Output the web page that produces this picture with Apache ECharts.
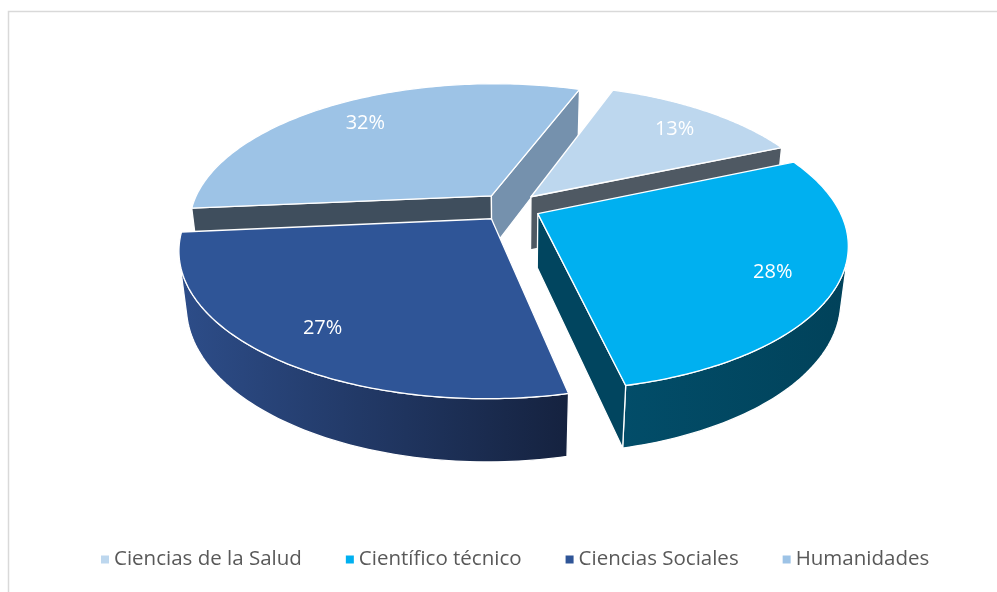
<!DOCTYPE html>
<html>
<head>
<meta charset="utf-8">
<script src="https://cdn.jsdelivr.net/npm/echarts@6/dist/echarts.min.js"></script>
<style>
  html, body { margin: 0; padding: 0; background: #ffffff; }
  #chart { width: 997px; height: 592px; }
</style>
</head>
<body>
<div id="chart"></div>
<script>
// Share of each field (percent)
const categories = ['Ciencias de la Salud', 'Científico técnico', 'Ciencias Sociales', 'Humanidades'];
const shares = [13, 28, 27, 32];

// Face colours of every slice
const topColors = ['#BDD7EE', '#00B0F0', '#2F5597', '#9DC3E6'];
const startFaceColors = ['#4F5963', '#01455F', '#23406F', '#3F4E5D'];
const endFaceColors = ['#4F5963', '#01455F', '#23406F', '#7591AD'];
const outerColors = [
  ['#4F5963', '#4F5963'],
  ['#024D69', '#01425A'],
  ['#2D4D89', '#15223F'],
  ['#3A4A5C', '#3A4A5C']
];

// 3D view of the pie: a short cylinder seen from above with perspective
const VIEW = {
  cx: 510, cy: 207,          // projected centre of the top face
  radius: 300,
  height: 62,
  explode: 31,
  tilt: Math.asin(0.462),    // elevation of the camera
  distance: 1330,            // camera distance for perspective
  firstAngle: 20 * Math.PI / 180,
  labelRadius: 0.8
};

const sinA = Math.sin(VIEW.tilt), cosA = Math.cos(VIEW.tilt);
const camera = [0, VIEW.distance * sinA, -VIEW.distance * cosA];
const total = shares.reduce((a, b) => a + b, 0);

function project(X, Y, Z) {
  const yv = Y * cosA + Z * sinA;
  const zv = Z * cosA - Y * sinA;
  const s = VIEW.distance / (VIEW.distance + zv);
  return [VIEW.cx + X * s, VIEW.cy - yv * s];
}

function faces(n, p) {
  return n[0] * (camera[0] - p[0]) + n[1] * (camera[1] - p[1]) + n[2] * (camera[2] - p[2]) > 0;
}

function sliceAngles(i) {
  let acc = 0;
  for (let j = 0; j < i; j++) acc += shares[j];
  const a0 = VIEW.firstAngle + acc / total * Math.PI * 2;
  const a1 = a0 + shares[i] / total * Math.PI * 2;
  return [a0, a1, (a0 + a1) / 2];
}

function renderSlice(i) {
  const R = VIEW.radius, H = VIEW.height;
  const [a0, a1, mid] = sliceAngles(i);
  const ox = VIEW.explode * Math.sin(mid), oz = VIEW.explode * Math.cos(mid);
  const P = (th, y, r) => project(ox + (r || R) * Math.sin(th), y, oz + (r || R) * Math.cos(th));
  const C = (y) => project(ox, y, oz);
  const edge = { stroke: '#ffffff', lineWidth: 1.3, lineJoin: 'round' };
  const children = [];

  // curved outer wall, only the part turned towards the camera
  const N = 90;
  let kFirst = -1, kLast = -1;
  for (let k = 0; k < N; k++) {
    const th = a0 + (a1 - a0) * (k + 0.5) / N;
    const n = [Math.sin(th), 0, Math.cos(th)];
    const p = [ox + R * n[0], -H / 2, oz + R * n[2]];
    if (faces(n, p)) { if (kFirst < 0) kFirst = k; kLast = k; }
  }
  if (kFirst >= 0) {
    const pts = [];
    for (let k = kFirst; k <= kLast + 1; k++) pts.push(P(a0 + (a1 - a0) * k / N, 0));
    for (let k = kLast + 1; k >= kFirst; k--) pts.push(P(a0 + (a1 - a0) * k / N, -H));
    children.push({
      type: 'polygon', shape: { points: pts },
      style: Object.assign({
        fill: new echarts.graphic.LinearGradient(0, 0, 1, 0, [
          { offset: 0, color: outerColors[i][0] },
          { offset: 1, color: outerColors[i][1] }
        ])
      }, edge)
    });
  }

  // flat radial walls at both ends of the slice
  const walls = [
    { th: a0, n: [-Math.cos(a0), 0, Math.sin(a0)], color: startFaceColors[i] },
    { th: a1, n: [Math.cos(a1), 0, -Math.sin(a1)], color: endFaceColors[i] }
  ];
  walls.forEach(w => {
    const p = [ox + R / 2 * Math.sin(w.th), -H / 2, oz + R / 2 * Math.cos(w.th)];
    if (faces(w.n, p)) {
      children.push({
        type: 'polygon',
        shape: { points: [C(0), P(w.th, 0), P(w.th, -H), C(-H)] },
        style: Object.assign({ fill: w.color }, edge)
      });
    }
  });

  // top face
  const topPts = [C(0)];
  const M = 120;
  for (let k = 0; k <= M; k++) topPts.push(P(a0 + (a1 - a0) * k / M, 0));
  children.push({
    type: 'polygon', shape: { points: topPts },
    style: Object.assign({ fill: topColors[i] }, edge)
  });

  // value label on the top face
  const lp = P(mid, 0, R * VIEW.labelRadius);
  children.push({
    type: 'text',
    style: {
      text: shares[i] + '%', x: lp[0], y: lp[1] + 3,
      fill: '#ffffff', font: '20px "Open Sans", sans-serif',
      align: 'center', verticalAlign: 'middle'
    }
  });

  return { type: 'group', children: children };
}

// farther slices are painted first
const order = categories.map((_, i) => i)
  .sort((a, b) => Math.cos(sliceAngles(b)[2]) - Math.cos(sliceAngles(a)[2]));

const series = order.map(i => ({
  type: 'custom',
  name: categories[i],
  coordinateSystem: 'none',
  itemStyle: { color: topColors[i] },
  data: [[shares[i]]],
  renderItem: () => renderSlice(i)
}));

const chart = echarts.init(document.getElementById('chart'), null, { renderer: 'canvas' });
chart.setOption({
  animation: false,
  backgroundColor: '#ffffff',
  graphic: [{
    type: 'rect', silent: true, z: -10,
    shape: { x: 8.5, y: 11.5, width: 1000, height: 600 },
    style: { fill: null, stroke: '#D9D9D9', lineWidth: 1.5 }
  }],
  legend: {
    data: categories,
    left: 96,
    top: 544,
    icon: 'rect',
    itemWidth: 8,
    itemHeight: 8,
    itemGap: 44,
    selectedMode: false,
    textStyle: { color: '#595959', fontSize: 20.5, fontFamily: 'Open Sans' }
  },
  series: series
});
</script>
</body>
</html>
